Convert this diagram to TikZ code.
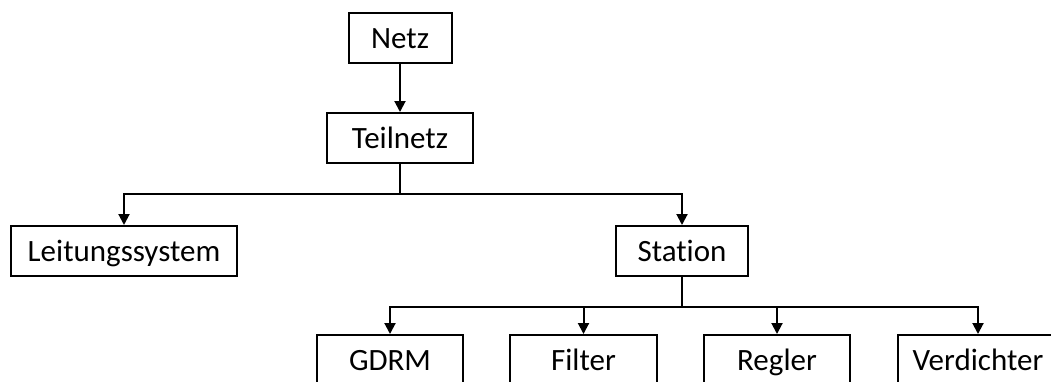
\documentclass[tikz,border=0pt]{standalone}
\usepackage{fontspec}
\setmainfont[Ligatures=NoCommon]{Carlito}
\usetikzlibrary{arrows.meta}
\begin{document}
\begin{tikzpicture}[x=1pt,y=-1pt,
  box/.style={draw=black,line width=2pt,fill=white,minimum height=50pt,inner sep=0pt,
    text height=20pt,text depth=0pt,
    font=\fontsize{31}{37}\selectfont},
  arr/.style={line width=2pt,-{Triangle[width=11pt,length=11pt]}}]
\useasboundingbox (0,0) rectangle (1051,381);
\clip (0,0) rectangle (1051,381);
\node[box,minimum width=103pt] (netz) at (400,38) {Netz};
\node[box,minimum width=146pt] (teil) at (400,138) {Teilnetz};
\node[box,minimum width=226pt] (leit) at (124,251) {Leitungssystem};
\node[box,minimum width=132pt] (stat) at (682,251) {Station};
\node[box,minimum width=146pt] (gdrm) at (390,360) {GDRM};
\node[box,minimum width=147pt] (filt) at (583.5,360) {Filter};
\node[box,minimum width=146pt] (regl) at (777,360) {Regler};
\node[box,minimum width=160pt] (verd) at (978,360) {Verdichter};
\draw[arr] (netz.south) -- (teil.north);
\draw[arr] (teil.south) -- ++(0,30) -| (leit.north);
\draw[arr] (teil.south) -- ++(0,30) -| (stat.north);
\draw[arr] (stat.south) -- ++(0,30) -| (gdrm.north);
\draw[arr] (stat.south) -- ++(0,30) -| (filt.north);
\draw[arr] (stat.south) -- ++(0,30) -| (regl.north);
\draw[arr] (stat.south) -- ++(0,30) -| (verd.north);
\end{tikzpicture}
\end{document}
